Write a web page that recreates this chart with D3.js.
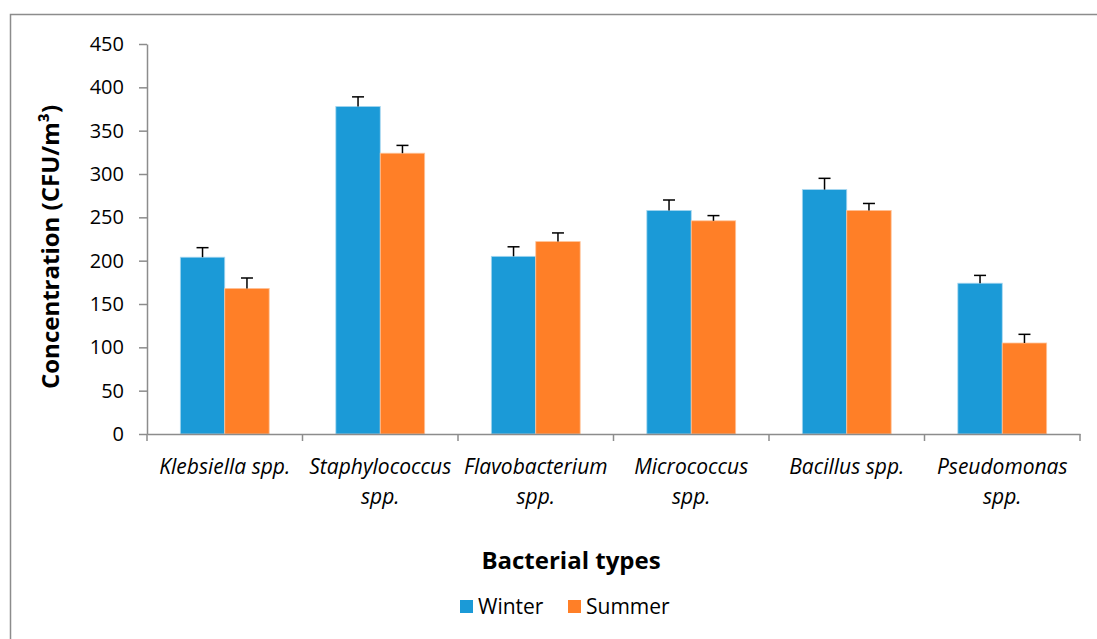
<!DOCTYPE html>
<html>
<head>
<meta charset="utf-8">
<script src="https://d3js.org/d3.v7.min.js"></script>
<style>
body { margin: 0; background: #fff; }
svg { display: block; font-family: "Open Sans", sans-serif; }
</style>
</head>
<body>
<div id="chart"></div>
<script>
var categories = [["Klebsiella spp."], ["Staphylococcus", "spp."], ["Flavobacterium", "spp."],
	["Micrococcus", "spp."], ["Bacillus spp."], ["Pseudomonas", "spp."]];
var series = ["Winter", "Summer"];
var winter = [204, 378, 205, 258, 282, 174];
var summer = [168, 324, 222, 246, 258, 105];
var winterErr = [11, 11, 11, 12, 13, 9];
var summerErr = [12, 9, 10, 6, 8, 10];
var yTicks = [0, 50, 100, 150, 200, 250, 300, 350, 400, 450];

var colors = ["#1B9AD7", "#FF7F27"];
var W = 1097, H = 639;
var margin = {top: 44, left: 147, right: 17, bottom: 205};

var svg = d3.select("#chart").append("svg").attr("width", W).attr("height", H);

// outer frame
svg.append("rect").attr("x", 10.5).attr("y", 14.5).attr("width", W).attr("height", H)
	.attr("fill", "none").attr("stroke", "#8c8c8c").attr("stroke-width", 1.5);

var keys = categories.map(d => d.join(" "));
var x = d3.scaleBand().domain(keys).range([margin.left, W - margin.right]).padding(0);
var x1 = d3.scaleBand().domain(series).range([0, x.bandwidth()]).paddingInner(0).paddingOuter(0.75);
var y = d3.scaleLinear().domain([0, 450]).range([H - margin.bottom, margin.top]);

var rows = keys.map((k, i) => ({key: k, lines: categories[i],
	vals: [{s: "Winter", v: winter[i], e: winterErr[i]}, {s: "Summer", v: summer[i], e: summerErr[i]}]}));

// y axis
var yAxis = svg.append("g").attr("transform", `translate(${margin.left},0)`)
	.call(d3.axisLeft(y).tickValues(yTicks).tickSize(8).tickSizeOuter(0).tickPadding(15));
yAxis.select(".domain").attr("stroke", "#8c8c8c").attr("stroke-width", 1.5);
yAxis.selectAll(".tick line").attr("stroke", "#8c8c8c").attr("stroke-width", 1.5);
yAxis.selectAll("text").attr("font-size", 20).attr("fill", "#000").attr("font-family", "Open Sans");

// bars
var grp = svg.selectAll("g.cat").data(rows).enter().append("g").attr("class", "cat")
	.attr("transform", d => `translate(${x(d.key)},0)`);
grp.selectAll("rect").data(d => d.vals).enter().append("rect")
	.attr("x", d => x1(d.s)).attr("width", x1.bandwidth())
	.attr("y", d => y(d.v)).attr("height", d => y(0) - y(d.v))
	.attr("fill", (d, i) => colors[i])
	.attr("stroke", (d, i) => i ? "#ffc49a" : "#a8d8f0").attr("stroke-width", 0.8);

// error bars
var eb = grp.selectAll("g.err").data(d => d.vals).enter().append("g").attr("class", "err");
eb.append("line")
	.attr("x1", d => x1(d.s) + x1.bandwidth() / 2).attr("x2", d => x1(d.s) + x1.bandwidth() / 2)
	.attr("y1", d => y(d.v)).attr("y2", d => y(d.v + d.e))
	.attr("stroke", "#000").attr("stroke-width", 1.5);
eb.append("line")
	.attr("x1", d => x1(d.s) + x1.bandwidth() / 2 - 6).attr("x2", d => x1(d.s) + x1.bandwidth() / 2 + 6)
	.attr("y1", d => y(d.v + d.e)).attr("y2", d => y(d.v + d.e))
	.attr("stroke", "#000").attr("stroke-width", 1.5);

// x axis
var xAxis = svg.append("g").attr("transform", `translate(0,${y(0)})`)
	.call(d3.axisBottom(x).tickValues([]).tickSizeOuter(0));
xAxis.select(".domain").attr("stroke", "#8c8c8c").attr("stroke-width", 1.5);
var bounds = keys.map(k => x(k)).concat([W - margin.right]);
xAxis.selectAll(".bt").data(bounds).enter().append("line").attr("class", "bt")
	.attr("x1", d => d).attr("x2", d => d).attr("y1", 0).attr("y2", 7)
	.attr("stroke", "#8c8c8c").attr("stroke-width", 1.5);

// category labels
var lab = svg.selectAll("text.cl").data(rows).enter().append("text").attr("class", "cl")
	.attr("text-anchor", "middle").attr("font-size", 21).attr("font-style", "italic")
	.attr("x", d => x(d.key) + x.bandwidth() / 2).attr("y", y(0) + 40);
lab.selectAll("tspan").data(d => d.lines).enter().append("tspan")
	.attr("x", function() { return this.parentNode.getAttribute("x"); })
	.attr("dy", (d, i) => i ? 30 : 0).text(d => d);

// axis titles
svg.append("text").attr("transform", `translate(59,${(y(0) + y(450)) / 2 + 8}) rotate(-90)`)
	.attr("text-anchor", "middle").attr("font-size", 24).attr("font-weight", "bold")
	.text("Concentration (CFU/m³)");
svg.append("text").attr("x", 571).attr("y", 569).attr("text-anchor", "middle")
	.attr("font-size", 24).attr("font-weight", "bold").text("Bacterial types");

// legend
var leg = svg.selectAll("g.leg").data(series).enter().append("g").attr("class", "leg")
	.attr("transform", (d, i) => `translate(${i ? 568 : 460},600)`);
leg.append("rect").attr("width", 13).attr("height", 13).attr("fill", (d, i) => colors[i]);
leg.append("text").attr("x", 18).attr("y", 14).attr("font-size", 21).text(d => d);
</script>
</body>
</html>
